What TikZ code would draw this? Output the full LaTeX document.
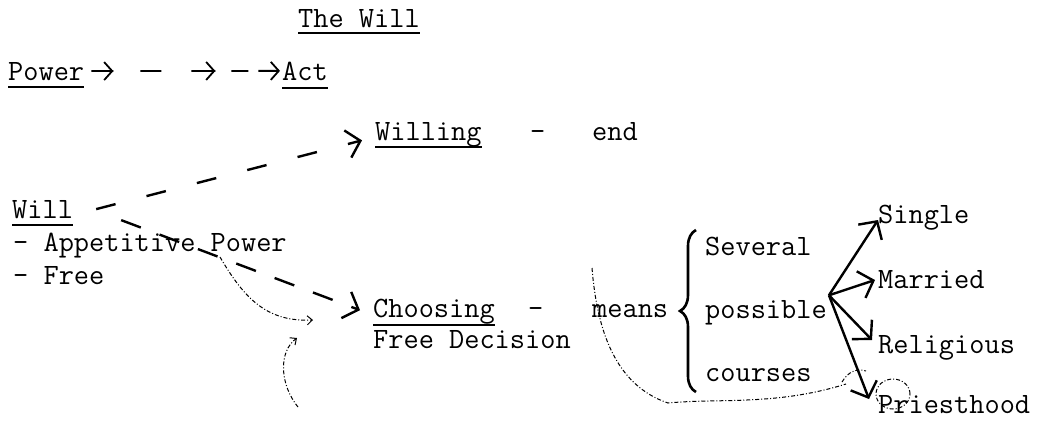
\documentclass[tikz,border=0pt]{standalone}
\usetikzlibrary{arrows.meta,decorations.pathreplacing,decorations.markings}
\begin{document}
\begin{tikzpicture}[x=1pt, y=-1pt,
	main/.style = {font=\ttfamily\fontsize{29.5}{33}\selectfont, inner sep=0pt, anchor=base west},
	barb/.style = {-{Straight Barb[length=13pt, width=28pt]}, line width=2.4pt},
	scrib/.style = {line width=1pt, dash pattern=on 4pt off 2pt on 1pt off 2pt},
	ul/.style = {line width=1.6pt}]
	\useasboundingbox (0,0) rectangle (1049,421);
	\node[main] (1) at (298,27) {The Will};
	\node[main] (2) at (8,80) {Power};
	\node[main] (3) at (282,80) {Act};
	\node[main] (4) at (375,140) {Willing};
	\node[main] (5) at (530,140) {-};
	\node[main] (6) at (592,140) {end};
	\node[main] (7) at (12,218) {Will};
	\node[main] (8) at (13,251) {- Appetitive Power};
	\node[main] (9) at (13,284) {- Free};
	\node[main] (10) at (373,317) {Choosing};
	\node[main] (11) at (528,317) {-};
	\node[main] (12) at (592,317) {means};
	\node[main] (13) at (373,348) {Free Decision};
	\node[main] (14) at (705,255) {Several};
	\node[main] (15) at (705,318) {possible};
	\node[main] (16) at (705,381) {courses};
	\node[main] (17) at (878,223) {Single};
	\node[main] (18) at (878,288) {Married};
	\node[main] (19) at (878,353) {Religious};
	\node[main] (20) at (878,413) {Priesthood};
	\coordinate (hub) at ([xshift=2pt, yshift=17pt]15.east);
	\draw[ul] ([yshift=-6pt]1.base west) -- ([yshift=-6pt]1.base east);
	\draw[ul] ([yshift=-7pt]2.base west) -- ([yshift=-7pt]2.base east);
	\draw[ul] ([yshift=-8pt]3.base west) -- ([yshift=-8pt]3.base east);
	\draw[ul] ([yshift=-7pt]4.base west) -- ([yshift=-7pt]4.base east);
	\draw[ul] ([yshift=-7pt]7.base west) -- ([yshift=-7pt]7.base east);
	\draw[ul] ([yshift=-8pt]10.base west) -- ([yshift=-8pt]10.base east);
	\draw[line width=1.8pt, dash pattern=on 22pt off 27pt on 21pt off 30pt on 24pt off 16pt on 17pt off 10pt on 20pt, -{Straight Barb[length=8pt, width=18pt]}, postaction={decorate, decoration={markings, mark=at position 22pt with {\arrow{Straight Barb[length=8pt, width=18pt]}}, mark=at position 124pt with {\arrow{Straight Barb[length=8pt, width=18pt]}}}}] ([xshift=7pt]2.east) -- ([xshift=-2pt]3.west);
	\draw[barb, dash pattern=on 20pt off 32pt] ([xshift=23pt]7.east) -- ([xshift=-13pt, yshift=-6pt]4.west);
	\draw[barb, dash pattern=on 21pt off 20pt] ([xshift=48pt, yshift=-11pt]7.east) -- ([xshift=-13pt, yshift=1pt]10.west);
	\draw[line width=2.6pt, decorate, decoration={brace, amplitude=16pt}] (696,392) -- (696,230);
	\draw[barb] (hub) -- ([yshift=3pt]17.base west);
	\draw[barb] (hub) -- ([xshift=-3pt, yshift=8pt]18.base west);
	\draw[barb] (hub) -- ([xshift=-6pt, yshift=13pt]19.base west);
	\draw[barb] (hub) -- ([xshift=-9pt, yshift=14pt]20.base west);
	\draw[scrib, -{Straight Barb[length=5pt, width=9pt]}] (220,257) .. controls (245,300) and (268,322) .. (313,320);
	\draw[scrib, -{Straight Barb[length=5pt, width=9pt]}] (298,407) .. controls (280,385) and (278,352) .. (297,338);
	\draw[scrib] (592,268) .. controls (597,330) and (615,385) .. (668,403) .. controls (720,398) and (775,406) .. (846,384);
	\draw[scrib] (842,382) .. controls (848,372) and (856,368) .. (866,371);
	\draw[scrib] (893,394) ellipse [x radius=17pt, y radius=15pt];
\end{tikzpicture}
\end{document}
